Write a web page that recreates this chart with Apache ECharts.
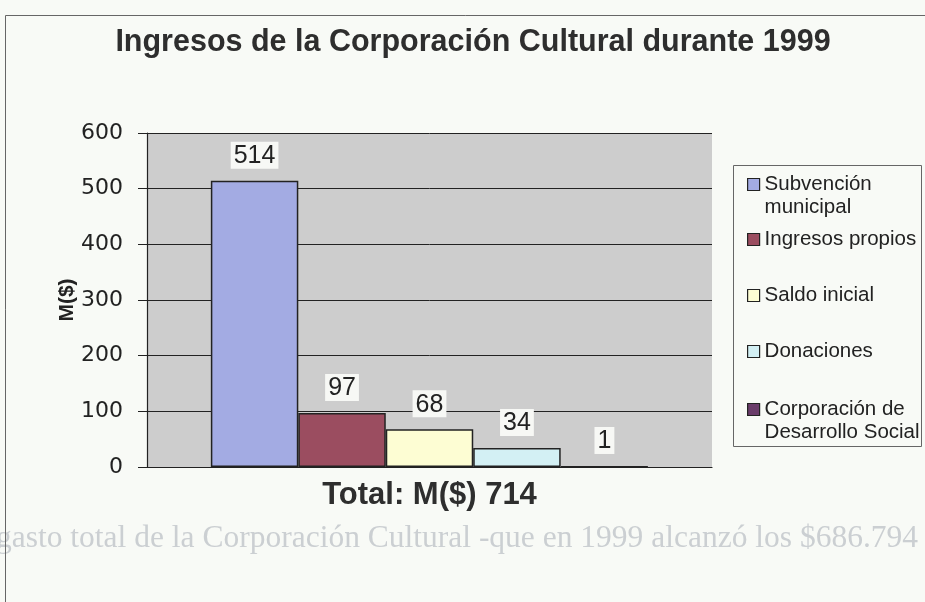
<!DOCTYPE html>
<html><head><meta charset="utf-8">
<script src="https://cdn.jsdelivr.net/npm/echarts@6/dist/echarts.min.js"></script>
<style>html,body{margin:0;padding:0;background:#f8faf6}#c{width:925px;height:602px}</style>
</head><body><div id="c"></div>
<script>
const categories = [''];
const seriesNames = ['Subvención\nmunicipal', 'Ingresos propios', 'Saldo inicial', 'Donaciones', 'Corporación de\nDesarrollo Social'];
const values = [514, 97, 68, 34, 1];
const yMin = 0, yMax = 600, yStep = 100;
const colors = ['#a3abe3', '#9b4d60', '#fdfdd3', '#d3f0f4', '#6a3c6a'];
const titleText = 'Ingresos de la Corporación Cultural durante 1999';
const xName = 'Total: M($) 714';
const yName = 'M($)';
const ghostText = 'gasto total de la Corporación Cultural -que en 1999 alcanzó los $686.794';

const legendCenters = [183, 239, 295, 351, 408];

const chart = echarts.init(document.getElementById('c'));
const legends = seriesNames.map((n, i) => {
  const twoLine = n.indexOf('\n') >= 0;
  return {
    data: [n], orient: 'vertical', left: 747,
    top: twoLine ? legendCenters[i] - 33 : legendCenters[i] - 11,
    padding: 0, itemWidth: 12, itemHeight: 12, icon: 'rect',
    selectedMode: false,
    formatter: twoLine ? (name => ' \n' + name) : '{name}',
    itemStyle: { borderColor: '#222', borderWidth: 1.2 },
    textStyle: { fontFamily: 'Liberation Sans, Arial', fontSize: 20.5, color: '#222', lineHeight: 23 }
  };
});

chart.setOption({
  backgroundColor: '#f8faf6',
  animation: false,
  title: { text: titleText, left: 468, textAlign: 'center', top: 22,
    textStyle: { fontFamily: 'Liberation Sans', fontWeight: 'bold', fontSize: 30.5, color: '#2e2e2e' } },
  legend: legends,
  grid: { left: 147, right: 213, top: 133, bottom: 135, show: true, backgroundColor: '#cdcdcd', borderWidth: 0 },
  xAxis: { type: 'category', data: categories,
    name: xName, nameLocation: 'middle', nameGap: 13,
    nameTextStyle: { fontFamily: 'Liberation Sans', fontWeight: 'bold', fontSize: 31, color: '#2e2e2e' },
    axisLine: { lineStyle: { color: '#222', width: 1.2 } }, axisTick: { show: false }, axisLabel: { show: false } },
  yAxis: { type: 'value', min: yMin, max: yMax, interval: yStep,
    name: yName, nameLocation: 'middle', nameGap: 69, nameRotate: 90, nameMoveOverlap: false,
    nameTextStyle: { fontFamily: 'Liberation Sans, Arial', fontWeight: 'bold', fontSize: 21, color: '#222' },
    axisLine: { show: true, lineStyle: { color: '#222', width: 1.2 } },
    axisTick: { show: true, length: 9, lineStyle: { color: '#222' } },
    axisLabel: { margin: 24, fontFamily: 'DejaVu Sans', fontSize: 22, color: '#222' },
    splitLine: { lineStyle: { color: '#222', width: 1 } } },
  series: seriesNames.map((n, i) => ({
    type: 'bar', name: n, data: [values[i]],
    barGap: '0%', barCategoryGap: '22.6%',
    itemStyle: { color: colors[i], borderColor: '#222', borderWidth: 1.5 },
    label: { show: true, position: 'top', distance: 12, fontFamily: 'Liberation Sans, Arial', fontSize: 25, color: '#222',
      backgroundColor: '#f7f8f5', padding: [2, 3, 0, 3] }
  })),
  graphic: [
    { type: 'rect', shape: { x: 5.5, y: 15.5, width: 940, height: 620 }, style: { fill: 'none', stroke: '#666', lineWidth: 1 }, silent: true },
    { type: 'rect', shape: { x: 733.5, y: 165.5, width: 188, height: 281 }, style: { fill: 'none', stroke: '#666', lineWidth: 1 }, silent: true },
    { type: 'text', left: -4, top: 523, silent: true, z: -1,
      style: { text: ghostText, font: '31.5px "Liberation Serif", serif', fill: '#cbcfd2' } }
  ]
});
</script></body></html>
